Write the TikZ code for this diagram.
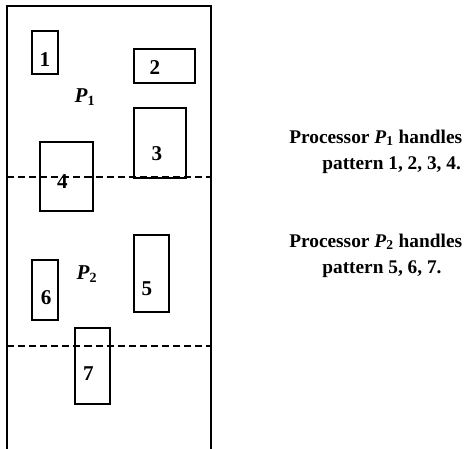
\documentclass[tikz,border=0pt]{standalone}
\usepackage{fontspec}
\setmainfont{Liberation Serif}
\usetikzlibrary{positioning}

\begin{document}
\begin{tikzpicture}[x=0.2mm, y=-0.2mm]
\tikzstyle{pat}=[rectangle, draw=black, line width=1pt, inner sep=0pt]
\tikzstyle{num}=[inner sep=0pt, font=\fontsize{12}{14}\selectfont\bfseries]
\tikzstyle{part}=[line width=0.9pt, dash pattern=on 4pt off 2.3pt]
\tikzstyle{frame}=[line width=1.1pt]
\tikzstyle{proc}=[inner sep=0pt, font=\fontsize{12}{14}\selectfont\bfseries]
\tikzstyle{txt}=[anchor=base west, inner sep=0pt, font=\fontsize{11}{13}\selectfont\bfseries]
\useasboundingbox (0,0) rectangle (472,449);
\coordinate (tl) at (7,6);
\coordinate (tr) at (211,6);
\coordinate (bl) at (7,449);
\coordinate (br) at (211,449);
\coordinate (d1l) at (7,177);
\coordinate (d1r) at (211,177);
\coordinate (d2l) at (7,346);
\coordinate (d2r) at (211,346);
\draw[frame] (bl) -- (tl) -- (tr) -- (br);
\path (d1l) edge [part] (d1r);
\path (d2l) edge [part] (d2r);
\node[pat, minimum width=5.2mm, minimum height=8.6mm, label={[num, yshift=-4.2pt]center:1}] (p1) at (45,52.5) {};
\node[pat, minimum width=12.2mm, minimum height=6.8mm, label={[num, xshift=-5.4pt, yshift=-1.1pt]center:2}] (p2) at (164.5,66) {};
\node[pat, minimum width=10.4mm, minimum height=14mm, label={[num, xshift=-1.7pt, yshift=-6.2pt]center:3}] (p3) at (160,143) {};
\node[pat, minimum width=10.6mm, minimum height=13.8mm, label={[num, xshift=-2.3pt, yshift=-2.6pt]center:4}] (p4) at (66.5,176.5) {};
\node[pat, minimum width=7mm, minimum height=15.4mm, label={[num, xshift=-2.6pt, yshift=-8.8pt]center:5}] (p5) at (151.5,273.5) {};
\node[pat, minimum width=5.2mm, minimum height=12mm, label={[num, xshift=0.6pt, yshift=-4.2pt]center:6}] (p6) at (45,290) {};
\node[pat, minimum width=7mm, minimum height=15.2mm, label={[num, xshift=-2.3pt, yshift=-4.5pt]center:7}] (p7) at (92.5,366) {};
\node[proc] (P1) at (85,97) {\textit{P}\textsubscript{1}};
\node[proc] (P2) at (87,274) {\textit{P}\textsubscript{2}};
\node[txt] (t1) at (289,143) {Processor \textit{P}\textsubscript{1} handles};
\node[txt] (t2) at (322,169) {pattern 1, 2, 3, 4.};
\node[txt] (t3) at (289,247) {Processor \textit{P}\textsubscript{2} handles};
\node[txt] (t4) at (322,273) {pattern 5, 6, 7.};
\end{tikzpicture}
\end{document}
